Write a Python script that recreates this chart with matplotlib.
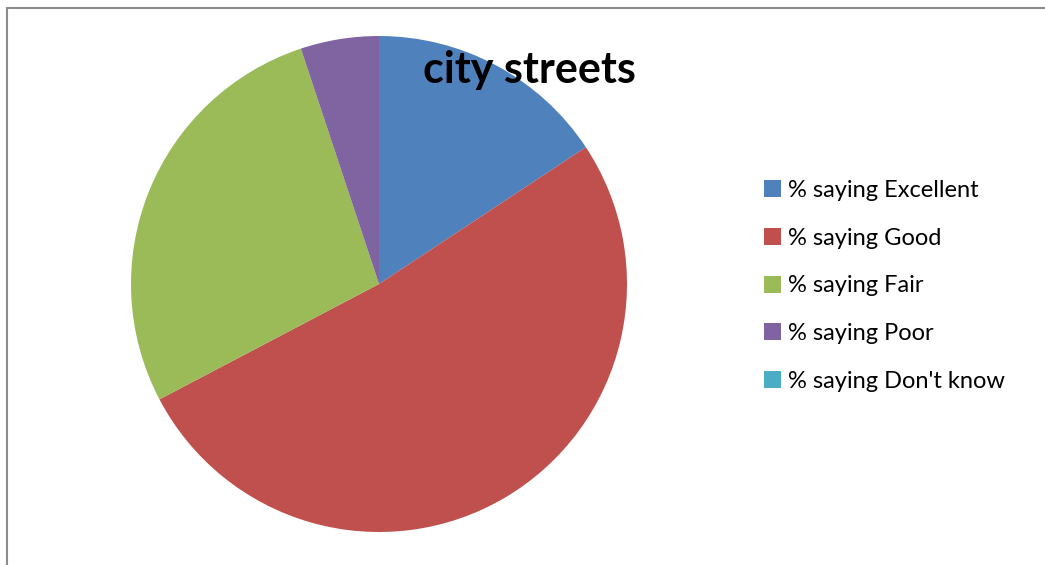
import matplotlib.pyplot as plt
from matplotlib.patches import Rectangle

labels = ['% saying Excellent', '% saying Good', '% saying Fair',
          '% saying Poor', "% saying Don't know"]
values = [15.7, 51.6, 27.6, 5.1, 0.0]
colors = ['#4F81BD', '#C0504D', '#9BBB59', '#8064A2', '#4BACC6']

W, H = 1045, 565
fig = plt.figure(figsize=(W / 100, H / 100), dpi=100)

# grey frame (top and left edges visible)
fig.patches.append(Rectangle((7 / W, -0.05), 1.2, (H - 7.5) / H + 0.05,
                             transform=fig.transFigure, fill=False,
                             edgecolor='#8c8c8c', linewidth=1.5))

cx, cy, r = 379, 284, 248
ax = fig.add_axes([(cx - r) / W, (H - cy - r) / H, 2 * r / W, 2 * r / H])
wedges, _ = ax.pie(values, colors=colors, startangle=90, counterclock=False,
                   radius=1, wedgeprops=dict(linewidth=0))
ax.set_xlim(-1, 1)
ax.set_ylim(-1, 1)
ax.axis('off')

fig.text(529 / W, 1 - 70 / H, 'city streets', ha='center', va='center',
         fontsize=31, fontweight='bold', family='Lato')

fig.legend(wedges, labels, loc='upper left',
           bbox_to_anchor=(764 / W, 1 - 180 / H), frameon=False,
           prop=dict(family='Lato', size=17), handlelength=0.72,
           handleheight=0.72, handletextpad=0.3, labelspacing=1.13,
           borderpad=0, borderaxespad=0)

fig.savefig('out.png', dpi=100)
